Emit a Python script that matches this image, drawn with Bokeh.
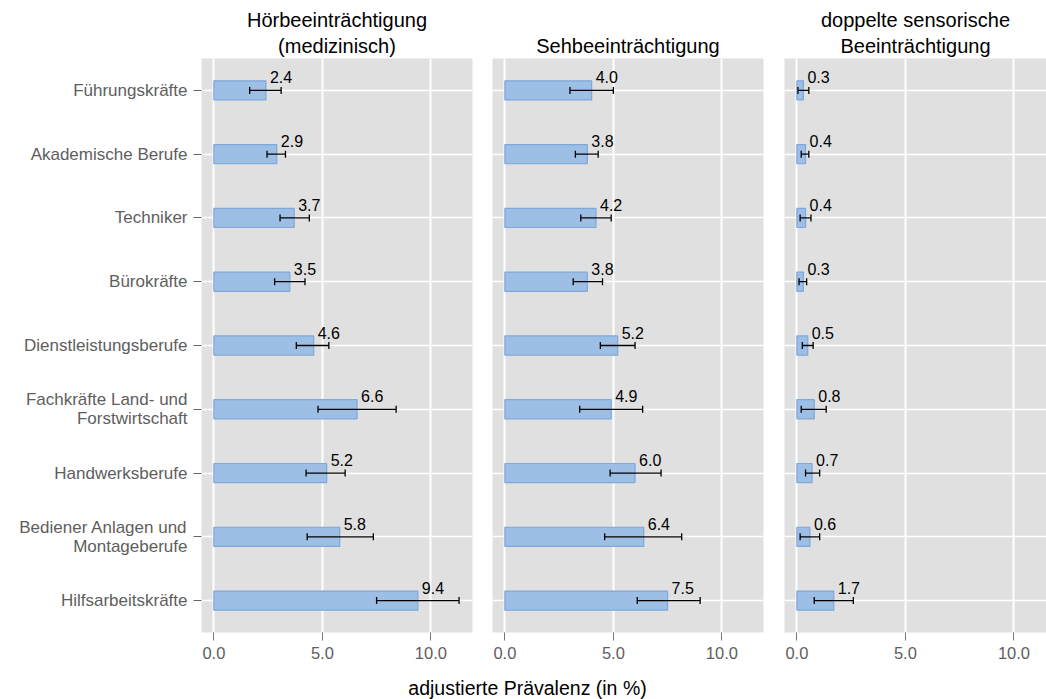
from bokeh.plotting import figure
from bokeh.models import (FactorRange, Range1d, FixedTicker, NumeralTickFormatter,
                          Whisker, TeeHead, ColumnDataSource, Label, Title)
from bokeh.layouts import row, column
from bokeh.core.properties import value
from bokeh.embed import file_html
from bokeh.resources import INLINE

categories = [
    "Führungskräfte",
    "Akademische Berufe",
    "Techniker",
    "Bürokräfte",
    "Dienstleistungsberufe",
    "Fachkräfte Land- und\nForstwirtschaft",
    "Handwerksberufe",
    "Bediener Anlagen und\nMontageberufe",
    "Hilfsarbeitskräfte",
]

panel_titles = [
    ["Hörbeeinträchtigung", "(medizinisch)"],
    ["Sehbeeinträchtigung"],
    ["doppelte sensorische", "Beeinträchtigung"],
]

hear = [2.4, 2.9, 3.7, 3.5, 4.6, 6.6, 5.2, 5.8, 9.4]
hear_lo = [1.65, 2.45, 3.05, 2.8, 3.8, 4.8, 4.25, 4.3, 7.5]
hear_hi = [3.1, 3.3, 4.4, 4.2, 5.3, 8.4, 6.05, 7.35, 11.3]

vis = [4.0, 3.8, 4.2, 3.8, 5.2, 4.9, 6.0, 6.4, 7.5]
vis_lo = [3.0, 3.25, 3.5, 3.15, 4.4, 3.45, 4.85, 4.6, 6.1]
vis_hi = [5.0, 4.3, 4.9, 4.5, 6.0, 6.35, 7.2, 8.15, 9.0]

dual = [0.3, 0.4, 0.4, 0.3, 0.5, 0.8, 0.7, 0.6, 1.7]
dual_lo = [0.05, 0.2, 0.15, 0.1, 0.25, 0.2, 0.4, 0.15, 0.8]
dual_hi = [0.55, 0.55, 0.65, 0.45, 0.75, 1.35, 1.05, 1.05, 2.6]

x_ticks = [0, 5, 10]
x_title = "adjustierte Prävalenz (in %)"

FONT = "Liberation Sans"
BG = "#E0E0E0"
TICK_TXT = "#5E5E5E"
TITLE_SIZE = "20px"


def style_title(t, standoff):
    t.text_font = FONT
    t.text_font_size = TITLE_SIZE
    t.text_font_style = "normal"
    t.text_color = "black"
    t.align = "center"
    t.standoff = standoff


def make_panel(title_lines, vals, lo, hi, show_y, bl, br, fw, x_end):
    p = figure(
        y_range=FactorRange(factors=categories[::-1]),
        x_range=Range1d(-0.57, x_end),
        frame_width=fw, frame_height=574,
        min_border_left=bl, min_border_right=br,
        min_border_top=58, min_border_bottom=44,
        output_backend="svg", toolbar_location=None, title=title_lines[0],
    )
    if len(title_lines) == 2:
        style_title(p.title, 0)
        t2 = Title(text=title_lines[1])
        style_title(t2, 4)
        p.add_layout(t2, "above")
    else:
        style_title(p.title, 4)

    p.background_fill_color = BG
    p.border_fill_color = "white"
    p.outline_line_color = None

    src = ColumnDataSource(dict(
        cat=categories, val=vals, lo=lo, hi=hi,
        lbl=[f"{v:.1f}" for v in vals],
    ))

    p.hbar(y="cat", left=0, right="val", height=0.3, source=src,
           fill_color="#9DBFE5", line_color="#7EA7DA", line_width=1.2)

    w = Whisker(base="cat", lower="lo", upper="hi", dimension="width", source=src,
                line_color="black", line_width=1.3, level="overlay",
                lower_head=TeeHead(size=7, line_color="black", line_width=1.3),
                upper_head=TeeHead(size=7, line_color="black", line_width=1.3))
    p.add_layout(w)

    p.text(x="val", y="cat", text="lbl", source=src, x_offset=4, y_offset=-13,
           text_font=value(FONT), text_font_size="16px", text_color="black",
           text_align="left", text_baseline="alphabetic")

    p.xgrid.ticker = FixedTicker(ticks=x_ticks)
    p.xgrid.grid_line_color = "white"
    p.xgrid.grid_line_width = 2
    p.ygrid.grid_line_color = "white"
    p.ygrid.grid_line_width = 1.5

    p.xaxis.ticker = FixedTicker(ticks=x_ticks)
    p.xaxis.formatter = NumeralTickFormatter(format="0.0")
    p.xaxis.axis_line_color = None
    p.xaxis.major_tick_out = 8
    p.xaxis.major_tick_in = 0
    p.xaxis.minor_tick_line_color = None
    p.xaxis.major_tick_line_color = "#777777"
    p.xaxis.major_label_text_color = TICK_TXT
    p.xaxis.major_label_text_font = FONT
    p.xaxis.major_label_text_font_size = "16.5px"
    p.xaxis.major_label_standoff = 6

    if show_y:
        p.yaxis.axis_line_color = None
        p.yaxis.major_tick_out = 8
        p.yaxis.major_tick_in = 0
        p.yaxis.major_tick_line_color = "#666666"
        p.yaxis.major_label_text_color = TICK_TXT
        p.yaxis.major_label_text_font = FONT
        p.yaxis.major_label_text_font_size = "17px"
        p.yaxis.major_label_text_line_height = 1.0
        p.yaxis.major_label_standoff = 6
    else:
        p.yaxis.visible = False
    return p


f1 = make_panel(panel_titles[0], hear, hear_lo, hear_hi, True, 201, 10, 271, 11.92)
f2 = make_panel(panel_titles[1], vis, vis_lo, vis_hi, False, 10, 10, 271, 11.92)
f3 = make_panel(panel_titles[2], dual, dual_lo, dual_hi, False, 11, 0, 262, 11.5)

lab = figure(width=1046, height=23, x_range=(0, 1046), y_range=(0, 23),
             x_axis_type=None, y_axis_type=None, min_border=0,
             output_backend="svg", toolbar_location=None)
lab.outline_line_color = None
lab.grid.visible = False
lab.add_layout(Label(x=527, y=12, text=x_title, text_align="center",
                     text_baseline="alphabetic", text_font=FONT,
                     text_font_size="19.5px", text_color="black"))

layout = column(row(f1, f2, f3), lab)
open("out.html", "w").write(file_html(layout, INLINE))
